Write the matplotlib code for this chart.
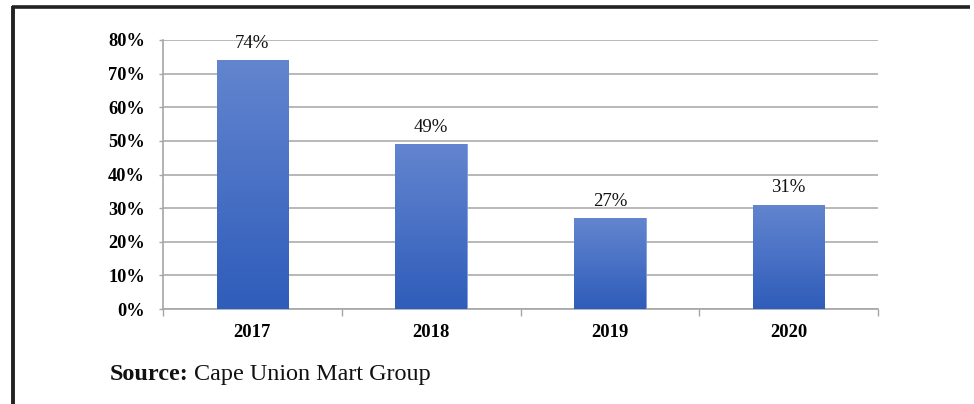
import numpy as np
import matplotlib
matplotlib.use("Agg")
import matplotlib.pyplot as plt
from matplotlib.lines import Line2D
from matplotlib.colors import LinearSegmentedColormap

years = ["2017", "2018", "2019", "2020"]
values = [0.74, 0.49, 0.27, 0.31]
yticks = [0.0, 0.1, 0.2, 0.3, 0.4, 0.5, 0.6, 0.7, 0.8]
ytick_labels = ["0%", "10%", "20%", "30%", "40%", "50%", "60%", "70%", "80%"]
source_bold = "Source:"
source_rest = "Cape Union Mart Group"

plt.rcParams['font.family'] = ['Liberation Serif', 'DejaVu Serif']

fig = plt.figure(figsize=(9.74, 4.04), dpi=100)
ax = fig.add_axes([163/974, 1 - 309/404, (878-163)/974, (309-40)/404])

x = np.arange(len(years))
bars = ax.bar(x, values, width=0.4, color="#4570C6", edgecolor="#7F9EDC", linewidth=0.6, zorder=3)

# vertical gradient inside each bar
cmap = LinearSegmentedColormap.from_list("g", ["#2F5DBA", "#6385CF"])
grad = np.linspace(0, 1, 256).reshape(-1, 1)
for b in bars:
    x0, y0 = b.get_x(), b.get_y()
    w, h = b.get_width(), b.get_height()
    im = ax.imshow(grad, extent=[x0, x0 + w, y0, y0 + h], origin="lower",
                   cmap=cmap, aspect="auto", zorder=3.5)
    im.set_clip_path(b)

for xi, v in zip(x, values):
    ax.annotate(f"{round(v*100)}%", (xi, v), xytext=(0, 9), textcoords="offset points",
                ha="center", va="baseline", fontsize=13.5, color="#111111", zorder=5)

ax.set_xlim(-0.5, len(years) - 0.5)
ax.set_ylim(0, 0.8)
ax.set_yticks(yticks)
ax.set_yticklabels(ytick_labels, fontsize=13.2, fontweight="bold")
ax.set_xticks(x)
ax.set_xticklabels(years, fontsize=13.4, fontweight="bold")
ax.set_xticks(np.arange(-0.5, len(years), 1.0), minor=True)
ax.tick_params(axis="x", which="major", length=0, pad=11)
ax.tick_params(axis="x", which="minor", length=5, color="#A6A6A6", width=1, direction="out")
ax.tick_params(axis="y", length=3, color="#A6A6A6", width=1, pad=10)

ax.grid(axis="y", color="#ABABAB", linewidth=1.2, zorder=0)
ax.set_axisbelow(True)
for s in ["top", "right"]:
    ax.spines[s].set_visible(False)
for s in ["left", "bottom"]:
    ax.spines[s].set_color("#A6A6A6")
    ax.spines[s].set_linewidth(1.2)

# frame lines of the page
fig.add_artist(Line2D([13/974, 13/974], [0, 1 - 6/404], color="#222222", linewidth=2.8,
                      solid_capstyle="butt"))
fig.add_artist(Line2D([11.5/974, 970/974], [1 - 6.5/404, 1 - 6.5/404], color="#222222",
                      linewidth=2.6, solid_capstyle="butt"))

t1 = fig.text(110/974, 1 - 380/404, source_bold, fontsize=17.4, fontweight="bold",
              ha="left", va="baseline", color="#111111")
fig.canvas.draw()
bb = t1.get_window_extent()
fig.text((bb.x1 + 5) / 974, 1 - 380/404, source_rest, fontsize=17.4,
         ha="left", va="baseline", color="#111111")

fig.savefig("out.png", dpi=100)
